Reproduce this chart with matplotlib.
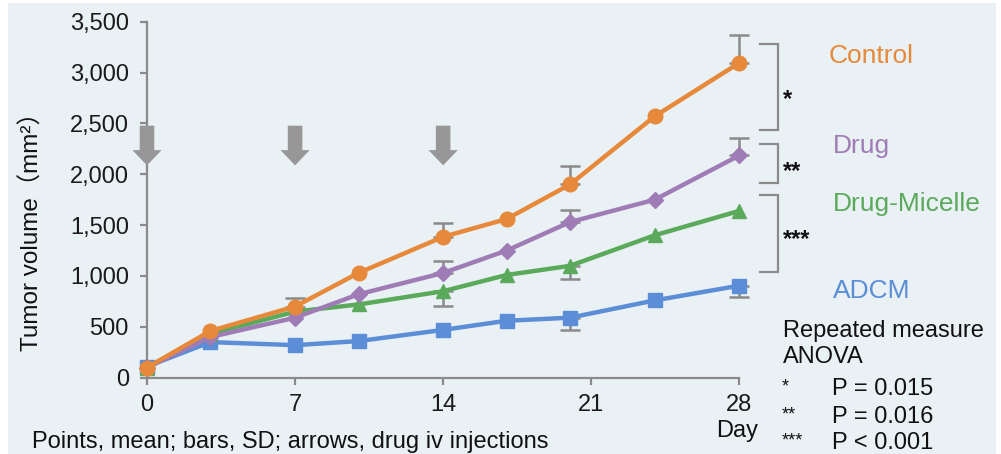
import numpy as np
import matplotlib
matplotlib.use("Agg")
import matplotlib.pyplot as plt
from matplotlib.patches import Rectangle, FancyArrowPatch

plt.rcParams['font.family'] = ['Liberation Sans', 'Noto Sans CJK JP', 'DejaVu Sans']

# ---- data ----
days = [0, 3, 7, 10, 14, 17, 20, 24, 28]
control = [100, 460, 700, 1030, 1385, 1560, 1900, 2570, 3095]
drug = [100, 400, 590, 820, 1030, 1250, 1530, 1750, 2185]
micelle = [100, 430, 650, 720, 850, 1010, 1100, 1400, 1640]
adcm = [110, 350, 320, 360, 470, 560, 590, 760, 905]

# SD (only the visible half of each bar is drawn)
control_sd_up = [None, None, 85, None, 140, None, 180, None, 270]
drug_sd_up = [None, None, None, None, 120, None, 120, None, 175]
micelle_sd_down = [None, None, None, None, 145, None, 130, None, None]
adcm_sd_down = [None, None, None, None, None, None, 125, None, 115]

injection_days = [0, 7, 14]
xticks = [0, 7, 14, 21, 28]
yticks = [0, 500, 1000, 1500, 2000, 2500, 3000, 3500]

labels = ["Control", "Drug", "Drug-Micelle", "ADCM"]
colors = ["#E6893B", "#9F7CB6", "#5BAA5B", "#5B8ED7"]
stars = ["*", "**", "***"]
pvals = ["P = 0.015", "P = 0.016", "P < 0.001"]

W, H = 1001, 454
fig = plt.figure(figsize=(W / 100, H / 100), dpi=100)
fig.patch.set_facecolor("white")
fig.add_artist(Rectangle((8 / W, 0), (996 - 8) / W, (H - 3) / H,
                         transform=fig.transFigure, facecolor="#EAF1F5",
                         edgecolor="none", zorder=-10))

def px(x, y):
    return x / W, 1 - y / H

ax = fig.add_axes([147 / W, (H - 377.7) / H, (739.3 - 147) / W, 356 / H])
ax.set_facecolor("none")
ax.set_xlim(0, 28)
ax.set_ylim(0, 3500)

gray = "#8A8A8A"
for s in ["top", "right"]:
    ax.spines[s].set_visible(False)
for s in ["left", "bottom"]:
    ax.spines[s].set_color(gray)
    ax.spines[s].set_linewidth(1.6)

ax.set_xticks(xticks)
ax.set_yticks(yticks)
ax.set_yticklabels([f"{v:,}" for v in yticks])
ax.tick_params(axis="both", colors=gray, length=5, width=1.6, labelcolor="#1a1a1a",
               labelsize=17)
ax.tick_params(axis="x", pad=7)
ax.tick_params(axis="y", pad=8)

def draw_err(vals, sd, upper):
    x = [d for d, s in zip(days, sd) if s is not None]
    y = [v for v, s in zip(vals, sd) if s is not None]
    e = [s for s in sd if s is not None]
    if upper:
        yerr = [np.zeros(len(e)), e]
    else:
        yerr = [e, np.zeros(len(e))]
    ax.errorbar(x, y, yerr=yerr, fmt="none", ecolor=gray, elinewidth=1.8,
                capsize=7, capthick=1.8, zorder=2, clip_on=False)

draw_err(adcm, adcm_sd_down, False)
draw_err(micelle, micelle_sd_down, False)
draw_err(drug, drug_sd_up, True)
draw_err(control, control_sd_up, True)

ax.plot(days, adcm, color=colors[3], lw=3.2, marker="s", ms=10, zorder=3, clip_on=False)
ax.plot(days, micelle, color=colors[2], lw=3.2, marker="^", ms=10, zorder=4, clip_on=False)
ax.plot(days, drug, color=colors[1], lw=3.2, marker="D", ms=8, zorder=5, clip_on=False)
ax.plot(days, control, color=colors[0], lw=3.2, marker="o", ms=10.5, zorder=6, clip_on=False)

# injection arrows
for d in injection_days:
    arr = FancyArrowPatch((d, 2505), (d, 2060),
                          arrowstyle="simple,head_width=21,head_length=11,tail_width=10.5",
                          mutation_scale=1, color="#979797", lw=0, zorder=10,
                          clip_on=False)
    ax.add_patch(arr)

# brackets
brackets = [(3282, 2436), (2298, 1915), (1797, 1040)]
for top, bot in brackets:
    ax.plot([29.0, 29.82, 29.82, 29.0], [top, top, bot, bot], color=gray,
            lw=1.6, clip_on=False, solid_joinstyle="miter")

# bracket stars
star_y = [106, 178, 246]
for s, y in zip(stars, star_y):
    fig.text(*px(783, y), s, fontsize=17, fontweight="bold", color="#111111",
             ha="left", va="baseline")

# series labels
label_base = [63, 153, 211, 298]
label_x = [829, 833, 833, 833]
for lab, c, x, y in zip(labels, colors, label_x, label_base):
    fig.text(*px(x, y), lab, fontsize=19, color=c, ha="left", va="baseline")

# ANOVA text
fig.text(*px(783, 337), "Repeated measure", fontsize=17, color="#111111", va="baseline")
fig.text(*px(783, 363), "ANOVA", fontsize=17, color="#111111", va="baseline")
p_base = [395, 423, 449]
for s, p, y in zip(stars, pvals, p_base):
    fig.text(*px(782, y - 4), s, fontsize=13, color="#111111", va="baseline")
    fig.text(*px(832, y), p, fontsize=17, color="#111111", va="baseline")

# axis labels / notes
fig.text(*px(737, 437), "Day", fontsize=17, color="#111111", ha="center", va="baseline")
fig.text(*px(32, 448), "Points, mean; bars, SD; arrows, drug iv injections",
         fontsize=17, color="#111111", ha="left", va="baseline")
fig.text(*px(32, 226), "Tumor volume（mm²）", fontsize=17.5, color="#111111",
         rotation=90, ha="center", va="center")

fig.savefig("out.png", dpi=100)
